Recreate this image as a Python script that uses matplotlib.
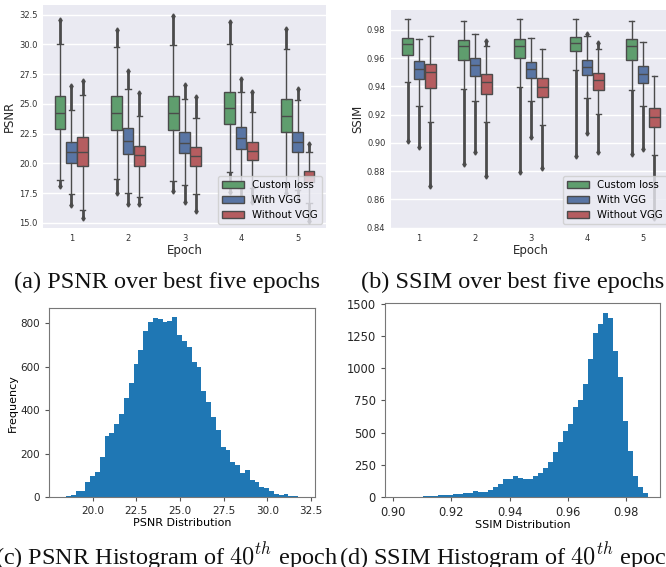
import colorsys
import numpy as np
import matplotlib
matplotlib.use("Agg")
import matplotlib.pyplot as plt
import matplotlib.colors as mcolors
from matplotlib.patches import Patch

# ---- data ------------------------------------------------------------------
epochs = ["1", "2", "3", "4", "5"]
series = ["Custom loss", "With VGG", "Without VGG"]

# PSNR box stats, one row per series, one value per epoch
psnr_q1 = [[22.87, 22.81, 22.81, 23.29, 22.61],
           [20.06, 20.76, 20.84, 21.21, 20.93],
           [19.78, 19.80, 19.80, 20.25, 18.45]]
psnr_med = [[24.21, 24.21, 24.21, 24.63, 24.02],
            [20.93, 21.88, 21.74, 22.13, 21.77],
            [20.98, 20.67, 20.59, 21.01, 18.95]]
psnr_q3 = [[25.70, 25.62, 25.62, 25.96, 25.42],
           [21.83, 22.95, 22.61, 23.09, 22.61],
           [22.19, 21.49, 21.40, 21.83, 19.38]]
psnr_wlo = [[18.57, 18.68, 18.51, 19.24, 18.30],
            [17.47, 17.56, 18.23, 17.90, 17.80],
            [16.12, 17.19, 17.42, 17.90, 16.70]]
psnr_whi = [[30.03, 29.78, 29.97, 30.03, 29.63],
            [24.49, 26.26, 25.42, 25.98, 25.34],
            [25.76, 24.02, 23.79, 24.30, 20.98]]
psnr_flo = [[18.12, 17.53, 17.70, 17.60, 17.50],
            [16.49, 16.57, 16.77, 17.00, 16.90],
            [15.45, 16.57, 16.01, 16.80, 15.20]]
psnr_fhi = [[32.08, 31.24, 32.40, 31.85, 31.29],
            [26.52, 27.72, 26.60, 27.10, 26.24],
            [26.88, 25.95, 25.56, 25.96, 21.63]]

# SSIM box stats
ssim_q1 = [[0.9619, 0.9589, 0.9603, 0.9650, 0.9584],
           [0.9452, 0.9476, 0.9462, 0.9478, 0.9427],
           [0.9391, 0.9349, 0.9325, 0.9377, 0.9114]]
ssim_med = [[0.9697, 0.9683, 0.9683, 0.9708, 0.9683],
            [0.9525, 0.9549, 0.9520, 0.9537, 0.9490],
            [0.9502, 0.9431, 0.9396, 0.9443, 0.9185]]
ssim_q3 = [[0.9741, 0.9730, 0.9737, 0.9751, 0.9732],
           [0.9579, 0.9600, 0.9570, 0.9584, 0.9542],
           [0.9560, 0.9490, 0.9462, 0.9495, 0.9250]]
ssim_wlo = [[0.9431, 0.9380, 0.9396, 0.9518, 0.9372],
            [0.9264, 0.9297, 0.9297, 0.9321, 0.9260],
            [0.9149, 0.9149, 0.9130, 0.9203, 0.8914]]
ssim_whi = [[0.9873, 0.9859, 0.9873, 0.9873, 0.9859],
            [0.9737, 0.9772, 0.9741, 0.9753, 0.9713],
            [0.9753, 0.9683, 0.9666, 0.9666, 0.9471]]
ssim_flo = [[0.9013, 0.8849, 0.8792, 0.8910, 0.8921],
            [0.8968, 0.8933, 0.9044, 0.9072, 0.8957],
            [0.8698, 0.8769, 0.8825, 0.8938, 0.8468]]
ssim_fhi = [[0.9873, 0.9859, 0.9873, 0.9873, 0.9859],
            [0.9737, 0.9772, 0.9741, 0.9767, 0.9713],
            [0.9753, 0.9718, 0.9666, 0.9706, 0.9471]]

# histograms of epoch 40 (50 bins between min and max)
psnr_range = (18.19, 32.04)
psnr_counts = [1, 5, 9, 30, 30, 69, 100, 116, 187, 282,
               294, 335, 384, 457, 524, 610, 677, 762, 803, 823,
               817, 805, 808, 826, 744, 719, 692, 620, 600, 486,
               437, 367, 308, 232, 216, 160, 146, 113, 125, 79,
               69, 49, 41, 29, 15, 11, 14, 6, 5, 3]
ssim_range = (0.90145, 0.98749)
ssim_counts = [1, 0, 1, 0, 1, 3, 8, 8, 16, 16,
               16, 23, 23, 31, 31, 42, 34, 36, 55, 75,
               99, 138, 138, 158, 148, 140, 140, 163, 187, 226,
               272, 350, 426, 509, 566, 696, 753, 877, 1069, 1272,
               1344, 1435, 1396, 1137, 934, 592, 356, 161, 73, 26]

# ---- styling ----------------------------------------------------------------
W, H = 666, 567
deep = ["#55A868", "#4C72B0", "#C44E52"]


def desat(c, p=0.75):
    h, l, s = colorsys.rgb_to_hls(*mcolors.to_rgb(c))
    return colorsys.hls_to_rgb(h, l, s * p)


box_colors = [desat(c) for c in deep]
gray = "#4b4b4b"
plt.rcParams["mathtext.fontset"] = "cm"


def px_axes(fig, x0, y0, x1, y1):
    return fig.add_axes([x0 / W, 1 - y1 / H, (x1 - x0) / W, (y1 - y0) / H])


def boxpanel(ax, q1, med, q3, wlo, whi, flo, fhi, ylim, yticks, fmt, ylabel):
    ax.set_facecolor("#EAEAF2")
    for s in ax.spines.values():
        s.set_visible(False)
    ax.set_axisbelow(True)
    ax.yaxis.grid(True, color="white", lw=1.0)
    offs = [-0.2, 0.0, 0.2]
    for j in range(3):
        pos = np.arange(len(epochs)) + offs[j]
        stats = []
        for i in range(len(epochs)):
            stats.append(dict(q1=q1[j][i], med=med[j][i], q3=q3[j][i],
                              whislo=wlo[j][i], whishi=whi[j][i],
                              fliers=[v for v in (flo[j][i], fhi[j][i])
                                      if v < wlo[j][i] or v > whi[j][i]]))
            # dense flier columns
            if fhi[j][i] > whi[j][i]:
                ax.vlines(pos[i], whi[j][i], fhi[j][i], color=gray, lw=2.0, zorder=2)
            if flo[j][i] < wlo[j][i]:
                ax.vlines(pos[i], flo[j][i], wlo[j][i], color=gray, lw=2.0, zorder=2)
        ax.bxp(stats, positions=pos, widths=0.19, patch_artist=True,
               boxprops=dict(facecolor=box_colors[j], edgecolor=gray, lw=1.0),
               medianprops=dict(color=gray, lw=1.0),
               whiskerprops=dict(color=gray, lw=1.0),
               capprops=dict(color=gray, lw=1.0),
               flierprops=dict(marker="d", ms=2.6, mfc=gray, mec=gray),
               manage_ticks=False)
    ax.set_xlim(-0.5, len(epochs) - 0.5)
    ax.set_xticks(np.arange(len(epochs)))
    ax.set_xticklabels(epochs)
    ax.set_ylim(*ylim)
    ax.set_yticks(yticks)
    ax.set_yticklabels([fmt % v for v in yticks])
    ax.tick_params(length=0, labelsize=6, labelcolor="#333333", pad=4)
    ax.set_xlabel("Epoch", fontsize=8.5, color="#262626", labelpad=1)
    ax.set_ylabel(ylabel, fontsize=8.5, color="#262626", labelpad=2)
    handles = [Patch(facecolor=box_colors[k], edgecolor=gray, lw=1) for k in range(3)]
    ax.legend(handles, series, loc="lower right", fontsize=7.3,
              facecolor="#EAEAF2", edgecolor="#cccccc", framealpha=0.8,
              borderaxespad=0.4, handlelength=2.2)


def histpanel(ax, counts, rng, xticks, fmt, yticks, xlabel, ylabel, fs):
    edges = np.linspace(rng[0], rng[1], len(counts) + 1)
    ax.hist(edges[:-1], bins=edges, weights=counts, color="#1f77b4")
    ax.set_xticks(xticks)
    ax.set_xticklabels([fmt % v for v in xticks])
    ax.set_yticks(yticks)
    ax.tick_params(labelsize=fs, length=3, color="#555555", labelcolor="#262626")
    for s in ax.spines.values():
        s.set_color("#777777")
    ax.set_xlabel(xlabel, fontsize=8, labelpad=1)
    if ylabel:
        ax.set_ylabel(ylabel, fontsize=8, labelpad=2)


fig = plt.figure(figsize=(W / 100, H / 100), dpi=100)

ax1 = px_axes(fig, 43, 5, 326, 228)
boxpanel(ax1, psnr_q1, psnr_med, psnr_q3, psnr_wlo, psnr_whi, psnr_flo, psnr_fhi,
         (14.58, 33.3), np.arange(15.0, 32.6, 2.5), "%.1f", "PSNR")

ax2 = px_axes(fig, 391, 10, 671, 228)
boxpanel(ax2, ssim_q1, ssim_med, ssim_q3, ssim_wlo, ssim_whi, ssim_flo, ssim_fhi,
         (0.8398, 0.994), np.arange(0.84, 0.981, 0.02), "%.2f", "SSIM")

ax3 = px_axes(fig, 49, 308.3, 315, 497.3)
histpanel(ax3, psnr_counts, psnr_range, [20.0, 22.5, 25.0, 27.5, 30.0, 32.5], "%.1f",
          [0, 200, 400, 600, 800], "PSNR Distribution", "Frequency", 7.5)

ax4 = px_axes(fig, 385, 303.3, 660.3, 496.7)
histpanel(ax4, ssim_counts, ssim_range, [0.90, 0.92, 0.94, 0.96, 0.98], "%.2f",
          [0, 250, 500, 750, 1000, 1250, 1500], "SSIM Distribution", None, 8.3)

cap = dict(fontsize=17.5, family="Liberation Serif", color="#111111", va="center")
fig.text(166.5 / W, 1 - 282 / H, "(a) PSNR over best five epochs", ha="center", **cap)
fig.text(512.5 / W, 1 - 282 / H, "(b) SSIM over best five epochs", ha="center", **cap)
fig.text(338 / W, 1 - 556 / H, "(c) PSNR Histogram of $40^{th}$ epoch", ha="right", **cap)
fig.text(339 / W, 1 - 556 / H, "(d) SSIM Histogram of $40^{th}$ epoch", ha="left", **cap)

fig.savefig("out.png", dpi=100)
